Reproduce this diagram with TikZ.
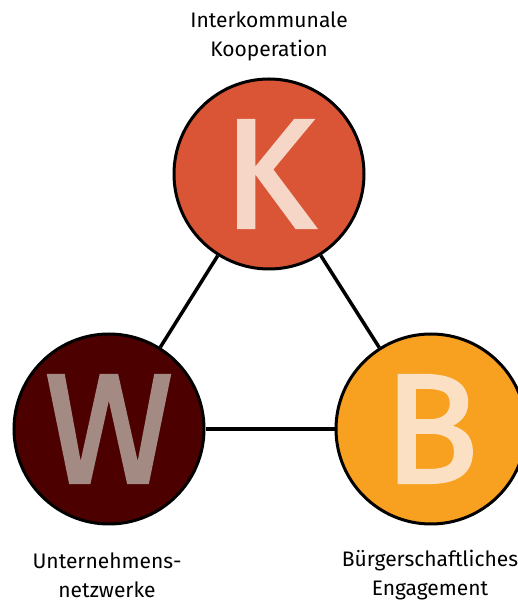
\documentclass[tikz,border=0pt]{standalone}
\usepackage{fontspec}
\setmainfont{Fira Sans}
\newfontface\letterfont{Fira Sans}[FakeBold=2.2]
\definecolor{kfill}{HTML}{D95535}
\definecolor{kletter}{HTML}{F6D6C7}
\definecolor{wfill}{HTML}{4D0000}
\definecolor{wletter}{HTML}{A38B83}
\definecolor{bfill}{HTML}{F8A020}
\definecolor{bletter}{HTML}{FCE0C4}
\tikzset{
  ball/.style={circle, draw=black, line width=3pt, minimum size=190pt, inner sep=0pt,
    font=\letterfont\fontsize{155}{155}\selectfont},
  conn/.style={line width=3.5pt, draw=black},
  lbl/.style={align=center, font=\fontsize{21}{29}\selectfont, text=black}
}
\begin{document}
\begin{tikzpicture}[x=1pt,y=1pt]
\useasboundingbox (0,0) rectangle (518,602);
\begin{scope}
\clip (0,0) rectangle (518,602);
\node[ball, fill=kfill, text=kletter] (K) at (269,428) {K};
\node[ball, fill=wfill, text=wletter] (W) at (109,173) {W};
\node[ball, fill=bfill, text=bletter] (B) at (431,173) {B};
\end{scope}
\draw[conn] (K) -- (W);
\draw[conn] (K) -- (B);
\draw[conn] (W) -- (B);
\node[lbl] (lk) at (269,566) {Interkommunale\\Kooperation};
\node[lbl] (lw) at (107,27) {Unternehmens-\\netzwerke};
\node[lbl] (lb) at (430,27) {Bürgerschaftliches\\Engagement};
\end{tikzpicture}
\end{document}
